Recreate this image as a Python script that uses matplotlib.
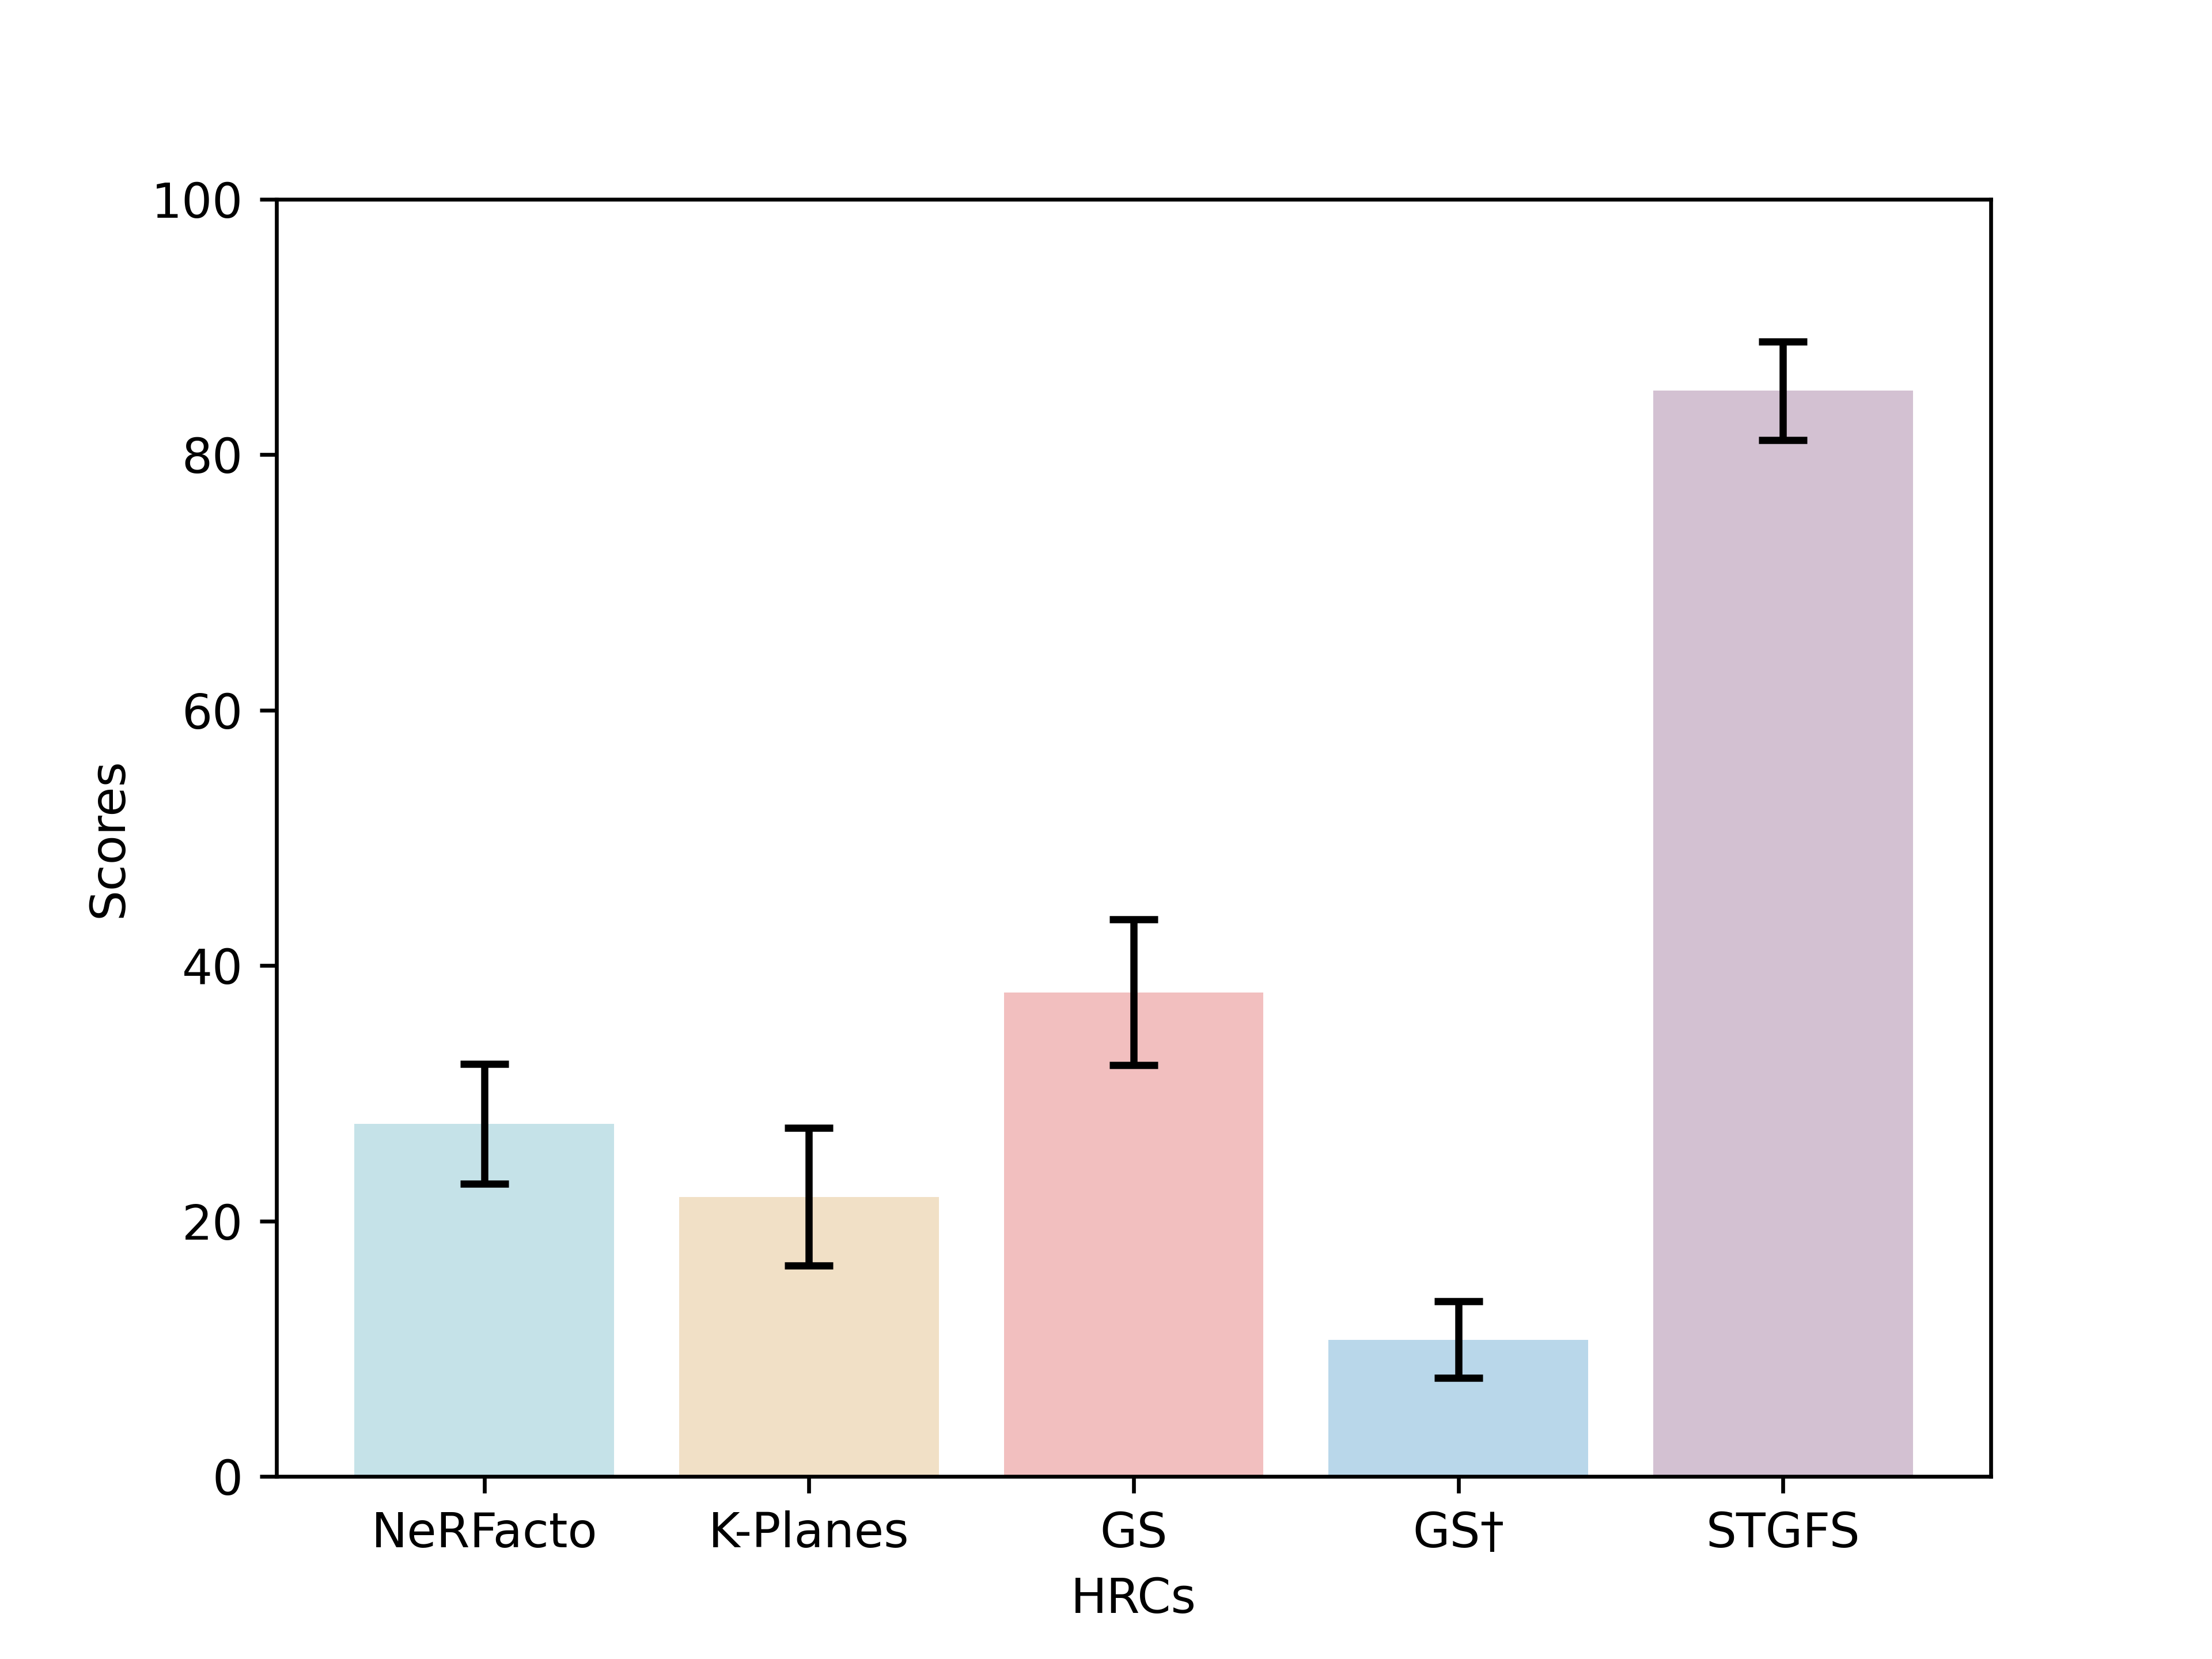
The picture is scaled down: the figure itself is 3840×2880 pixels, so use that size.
import matplotlib

matplotlib.use("Agg")
import matplotlib.pyplot as plt
import numpy as np

methods = ["NeRFacto", "K-Planes", "GS", "GS\u2020", "STGFS"]
scores = [27.6, 21.9, 37.9, 10.7, 85.0]
errors = [4.7, 5.4, 5.7, 3.0, 3.85]
colors = ["#c5e2e8", "#f1e0c6", "#f2bfbf", "#b9d7ea", "#d3c1d2"]

fig, ax = plt.subplots(figsize=(6.4, 4.8))
x = np.arange(len(methods))
ax.bar(x, scores, width=0.8, color=colors, yerr=errors, capsize=5,
       error_kw={"elinewidth": 1.5, "capthick": 1.5, "ecolor": "black"})
ax.set_xticks(x)
ax.set_xticklabels(methods)
ax.set_ylim(0, 100)
ax.set_xlabel("HRCs")
ax.set_ylabel("Scores")
fig.savefig("out.png", dpi=600)
plt.close(fig)
